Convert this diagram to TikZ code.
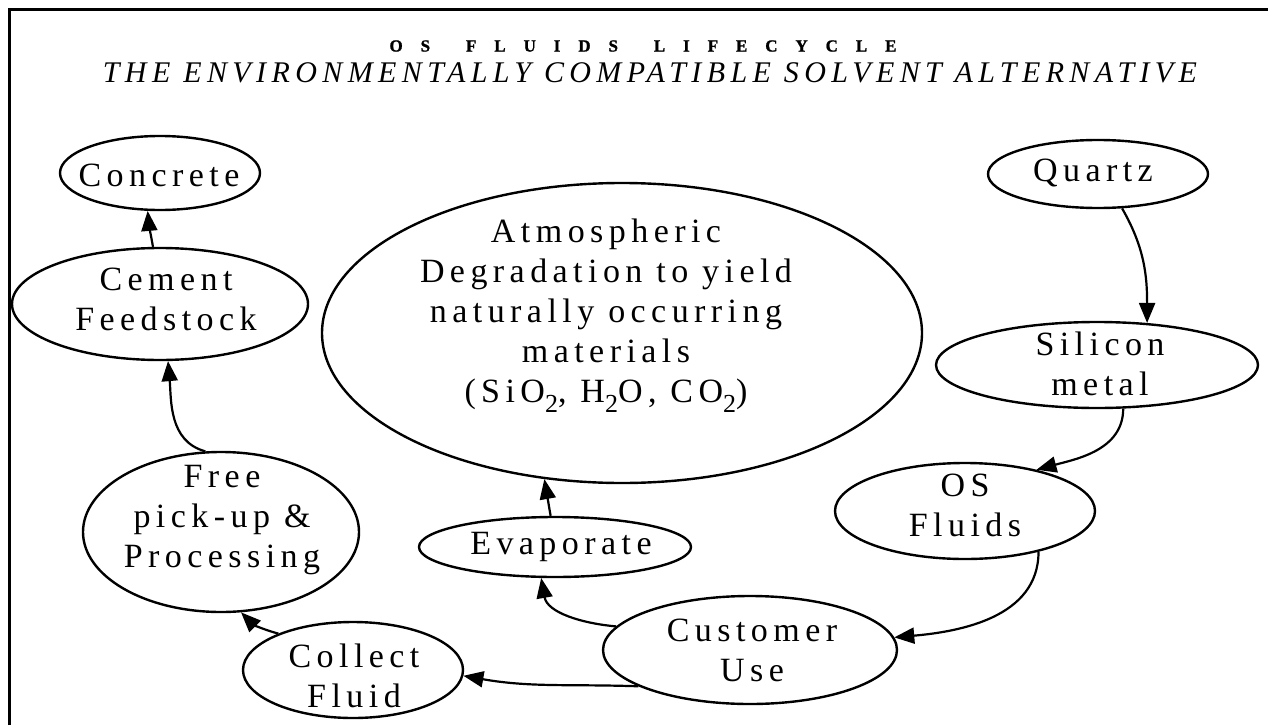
\documentclass[tikz,border=0pt]{standalone}
\usepackage{fontspec}
\setmainfont{Liberation Serif}
\newfontfamily\nodefont{Liberation Serif}[LetterSpace=16]
\newfontfamily\subtitlefont{Liberation Serif}[LetterSpace=18]
\newfontfamily\heavyfont{Liberation Serif Bold}[FakeBold=1.2]
\usetikzlibrary{shapes.geometric,arrows.meta}
\newcommand\mysub[1]{\raisebox{-0.3em}{\fontsize{26}{26}\selectfont #1}}
\tikzset{
  el/.style={ellipse, draw, line width=2.4pt, inner sep=0pt},
  txt/.style={font=\nodefont\fontsize{34}{40}\selectfont, align=center, inner sep=0pt},
  arr/.style={line width=2.2pt, -{Triangle[length=20pt,width=16pt]}},
  frame/.style={line width=3pt}
}
\begin{document}
\begin{tikzpicture}[x=1pt,y=-1pt]
\useasboundingbox (0,0) rectangle (1268,725);
% frame
\coordinate (fbl) at (9,725);
\coordinate (ftl) at (9,10);
\coordinate (ftr) at (1268,10);
\draw[frame] (fbl) -- (ftl) -- (ftr);
% titles
\node[inner sep=0pt, font=\heavyfont\fontsize{17}{17}\selectfont] (t1) at (643,46) {\makebox[507pt][s]{O S\ \ F L U I D S\ \ L I F E C Y C L E}};
\node[inner sep=0pt] (t2) at (650,73) {\subtitlefont\itshape\fontsize{30}{30}\selectfont THE ENVIRONMENTALLY COMPATIBLE SOLVENT ALTERNATIVE};
% ellipses
\node[el, minimum width=200pt, minimum height=74pt] (conc) at (160,173) {};
\node[el, minimum width=296pt, minimum height=112pt] (cem) at (160,304) {};
\node[el, minimum width=600pt, minimum height=300pt] (big) at (622,333) {};
\node[el, minimum width=220pt, minimum height=68pt] (quartz) at (1098,174) {};
\node[el, minimum width=322pt, minimum height=86pt] (sil) at (1097,365) {};
\node[el, minimum width=260pt, minimum height=96pt] (os) at (965,511) {};
\node[el, minimum width=294pt, minimum height=108pt] (cust) at (750,650) {};
\node[el, minimum width=272pt, minimum height=60pt] (evap) at (555,547) {};
\node[el, minimum width=220pt, minimum height=96pt] (coll) at (353,670) {};
\node[el, minimum width=276pt, minimum height=160pt] (free) at (221,532) {};
% texts
\node[txt] (conc-t) at (159,175) {Concrete};
\node[txt] (cem-t) at (166,299) {Cement\\Feedstock};
\node[txt] (big-t) at (606,316) {Atmospheric\\Degradation to yield\\naturally occurring\\materials\\(SiO\mysub{2}, H\mysub{2}O, CO\mysub{2})};
\node[txt] (quartz-t) at (1093,173) {Quartz};
\node[txt] (sil-t) at (1100,364) {Silicon\\metal};
\node[txt] (os-t) at (965,505) {OS\\Fluids};
\node[txt] (cust-t) at (752,650) {Customer\\Use};
\node[txt] (evap-t) at (561,547) {Evaporate};
\node[txt] (coll-t) at (354,676) {Collect\\Fluid};
\node[txt] (free-t) at (222,520) {Free\\pick-up \&\\Processing};
% connectors
\draw[arr] (cem.97) to[out=100,in=-85] (conc.252);
\draw[arr] (free.101) to[out=165,in=-85] (cem.278);
\draw[arr] (evap.98) to[out=100,in=-80] (big.242);
\draw[arr] (cust.170) to[out=175,in=-80] (evap.246);
\draw[arr] (cust.198) to[out=178,in=-10] (coll.357);
\draw[arr] (coll.154) to[out=165,in=-45] (free.284);
\draw[arr] (quartz.305) to[out=-60,in=90] (sil.40);
\draw[arr] (sil.301) to[out=-90,in=15] (os.30);
\draw[arr] (os.331) to[out=-90,in=5] (cust.5);
\end{tikzpicture}
\end{document}
